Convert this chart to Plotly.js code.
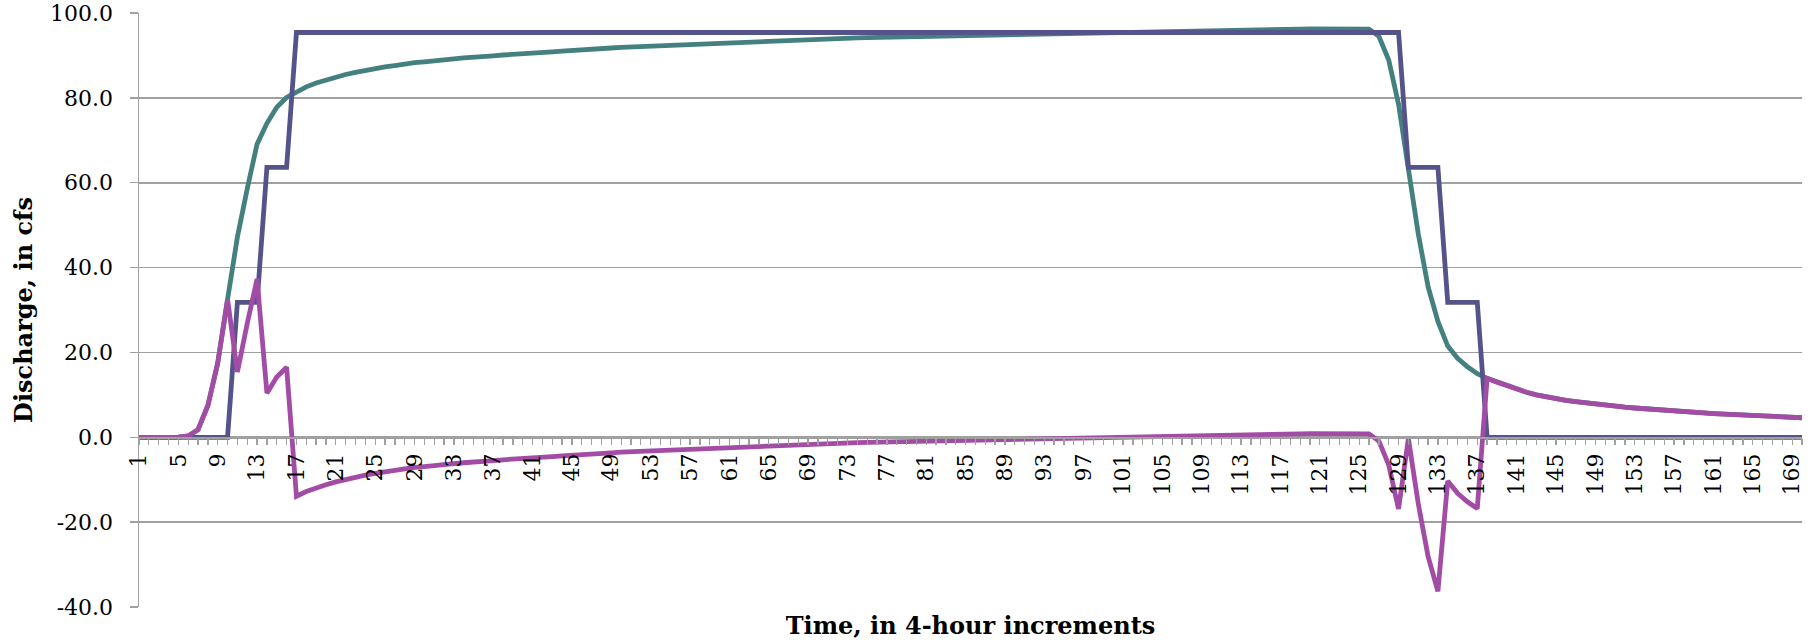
<!DOCTYPE html>
<html>
<head>
<meta charset="utf-8">
<script src="https://cdn.plot.ly/plotly-3.0.1.min.js"></script>
<style>html,body{margin:0;padding:0;background:#fff;}#chart{width:1816px;height:642px;}</style>
</head>
<body>
<div id="chart"></div>
<script>
// Time step (4-hour increments)
const categories = [
  1,2,3,4,5,6,7,8,9,10,11,12,13,14,15,16,17,18,19,20,
  21,22,23,24,25,26,27,28,29,30,31,32,33,34,35,36,37,38,39,40,
  41,42,43,44,45,46,47,48,49,50,51,52,53,54,55,56,57,58,59,60,
  61,62,63,64,65,66,67,68,69,70,71,72,73,74,75,76,77,78,79,80,
  81,82,83,84,85,86,87,88,89,90,91,92,93,94,95,96,97,98,99,100,
  101,102,103,104,105,106,107,108,109,110,111,112,113,114,115,116,117,118,119,120,
  121,122,123,124,125,126,127,128,129,130,131,132,133,134,135,136,137,138,139,140,
  141,142,143,144,145,146,147,148,149,150,151,152,153,154,155,156,157,158,159,160,
  161,162,163,164,165,166,167,168,169,170
];

// Dark blue stepped series
const stepSeries = [
  0,0,0,0,0,0,0,0,0,0,
  31.8,31.8,31.8,
  63.6,63.6,63.6,
  95.4,95.4,95.4,95.4,95.4,95.4,95.4,95.4,95.4,95.4,
  95.4,95.4,95.4,95.4,95.4,95.4,95.4,95.4,95.4,95.4,
  95.4,95.4,95.4,95.4,95.4,95.4,95.4,95.4,95.4,95.4,
  95.4,95.4,95.4,95.4,95.4,95.4,95.4,95.4,95.4,95.4,
  95.4,95.4,95.4,95.4,95.4,95.4,95.4,95.4,95.4,95.4,
  95.4,95.4,95.4,95.4,95.4,95.4,95.4,95.4,95.4,95.4,
  95.4,95.4,95.4,95.4,95.4,95.4,95.4,95.4,95.4,95.4,
  95.4,95.4,95.4,95.4,95.4,95.4,95.4,95.4,95.4,95.4,
  95.4,95.4,95.4,95.4,95.4,95.4,95.4,95.4,95.4,95.4,
  95.4,95.4,95.4,95.4,95.4,95.4,95.4,95.4,95.4,95.4,
  95.4,95.4,95.4,95.4,95.4,95.4,95.4,95.4,95.4,95.4,
  95.4,95.4,95.4,
  63.6,63.6,63.6,63.6,
  31.8,31.8,31.8,31.8,
  0,0,0,0,0,0,0,0,0,0,
  0,0,0,0,0,0,0,0,0,0,
  0,0,0,0,0,0,0,0,0,0,
  0,0,0
];

// Teal smooth series
const smoothSeries = [
  0,0,0,0,0.05,0.3,1.8,7.5,17.5,32.5,
  47.2,58.6,69.1,74.0,77.8,80.1,
  81.5,82.6,83.5,84.2,84.9,85.5,86.0,86.5,86.9,87.3,
  87.6,88.0,88.3,88.5,88.8,89.0,89.2,89.4,89.5,89.7,
  89.9,90.1,90.2,90.4,90.55,90.7,90.85,91.0,91.2,91.3,
  91.45,91.6,91.75,91.9,92.0,92.1,92.25,92.4,92.5,92.6,
  92.7,92.8,92.9,93.0,93.1,93.2,93.3,93.4,93.5,93.6,
  93.65,93.75,93.8,93.9,93.95,94.0,94.1,94.15,94.2,94.25,
  94.3,94.4,94.45,94.5,94.55,94.6,94.7,94.75,94.8,94.85,
  94.9,94.95,95.0,95.05,95.1,95.15,95.2,95.25,95.3,95.35,
  95.4,95.45,95.5,95.52,95.56,95.6,95.65,95.7,95.75,95.78,
  95.82,95.85,95.88,95.92,95.95,95.98,96.02,96.05,96.08,96.12,
  96.15,96.18,96.22,96.25,96.28,96.32,96.35,96.38,96.4,96.2,
  94.5,88.9,78.5,
  63.3,48.0,35.5,27.3,21.5,18.6,16.6,15.0,
  13.9,13.0,12.1,11.3,10.6,10.0,9.5,9.1,8.7,8.4,8.1,7.8,7.55,
  7.3,7.1,6.9,6.7,6.5,6.35,6.2,6.05,5.9,5.75,5.6,5.5,5.35,5.25,5.1,5.0,4.9,4.8,4.7,4.6
];

// Magenta difference series
const diffSeries = [
  0,0,0,0,0.05,0.3,1.8,7.5,17.5,32.5,
  15.4,26.8,37.3,10.4,14.2,16.5,
  -13.9,-12.8,-11.9,-11.2,-10.5,-9.9,-9.4,-8.9,-8.5,-8.1,
  -7.8,-7.4,-7.1,-6.9,-6.6,-6.4,-6.2,-6.0,-5.9,-5.7,
  -5.5,-5.3,-5.2,-5.0,-4.85,-4.7,-4.55,-4.4,-4.2,-4.1,
  -3.95,-3.8,-3.65,-3.5,-3.4,-3.3,-3.15,-3.0,-2.9,-2.8,
  -2.7,-2.6,-2.5,-2.4,-2.3,-2.2,-2.1,-2.0,-1.9,-1.8,
  -1.75,-1.65,-1.6,-1.5,-1.45,-1.4,-1.3,-1.25,-1.2,-1.15,
  -1.1,-1.0,-0.95,-0.9,-0.85,-0.8,-0.7,-0.65,-0.6,-0.55,
  -0.5,-0.45,-0.4,-0.35,-0.3,-0.25,-0.2,-0.15,-0.1,-0.05,
  0.0,0.05,0.1,0.12,0.16,0.2,0.25,0.3,0.35,0.38,
  0.42,0.45,0.48,0.52,0.55,0.58,0.62,0.65,0.68,0.72,
  0.75,0.78,0.82,0.85,0.88,0.92,0.95,0.98,1.0,0.8,
  -0.9,-6.5,-16.9,
  -0.3,-15.6,-28.1,-36.3,-10.3,-13.2,-15.2,-16.8,
  13.9,13.0,12.1,11.3,10.6,10.0,9.5,9.1,8.7,8.4,8.1,7.8,7.55,
  7.3,7.1,6.9,6.7,6.5,6.35,6.2,6.05,5.9,5.75,5.6,5.5,5.35,5.25,5.1,5.0,4.9,4.8,4.7,4.6
];

const xTickVals = [1,5,9,13,17,21,25,29,33,37,41,45,49,53,57,61,65,69,73,77,81,85,89,93,97,101,105,109,113,117,121,125,129,133,137,141,145,149,153,157,161,165,169];
const xTickText = ['1','5','9','13','17','21','25','29','33','37','41','45','49','53','57','61','65','69','73','77','81','85','89','93','97','101','105','109','113','117','121','125','129','133','137','141','145','149','153','157','161','165','169'];
const yTickVals = [-40,-20,0,20,40,60,80,100];
const yTickText = ['-40.0','-20.0','0.0','20.0','40.0','60.0','80.0','100.0'];

const FONT = 'DejaVu Serif, Liberation Serif, serif';
const GRID = '#a0a0a0';

const traces = [
  {x: categories, y: smoothSeries, type: 'scatter', mode: 'lines', name: 'Smooth',
   line: {color: '#43807f', width: 4.8}, hoverinfo: 'skip'},
  {x: categories, y: stepSeries, type: 'scatter', mode: 'lines', name: 'Step',
   line: {color: '#54548b', width: 4.8}, hoverinfo: 'skip'},
  {x: categories, y: diffSeries, type: 'scatter', mode: 'lines', name: 'Difference',
   line: {color: '#a34ca6', width: 4.8}, hoverinfo: 'skip'}
];

const layout = {
  width: 1816, height: 642,
  margin: {l: 139, r: 14, t: 13, b: 35},
  paper_bgcolor: '#ffffff', plot_bgcolor: '#ffffff',
  showlegend: false,
  font: {family: FONT, color: '#000', size: 20},
  xaxis: {
    range: [1, 170],
    anchor: 'free', position: 40/140,
    showgrid: false, zeroline: false,
    showline: true, linecolor: GRID, linewidth: 1.5,
    tickmode: 'array', tickvals: xTickVals, ticktext: xTickText,
    ticks: 'outside', ticklen: 6, tickcolor: GRID, tickwidth: 1.3,
    tickangle: -90,
    tickfont: {family: FONT, size: 22, color: '#000'},
    minor: {tickmode: 'array', tickvals: categories, ticks: 'outside', ticklen: 6, tickcolor: GRID, tickwidth: 1.3, showgrid: false},
    title: {text: 'Time, in 4-hour increments', standoff: 122,
            font: {family: FONT, size: 24, color: '#000', weight: 'bold'}},
    fixedrange: true
  },
  yaxis: {
    range: [-40, 100],
    tickmode: 'array', tickvals: yTickVals, ticktext: yTickText,
    showgrid: true, gridcolor: GRID, gridwidth: 1.6,
    zeroline: false,
    showline: true, linecolor: GRID, linewidth: 1.5,
    ticks: 'outside', ticklen: 8, tickcolor: GRID, tickwidth: 1.5,
    ticklabelstandoff: 12,
    tickfont: {family: FONT, size: 22, color: '#000'},
    title: {text: 'Discharge, in cfs', standoff: 10,
            font: {family: FONT, size: 24, color: '#000', weight: 'bold'}},
    fixedrange: true
  }
};

Plotly.newPlot('chart', traces, layout, {displayModeBar: false, staticPlot: true});
</script>
</body>
</html>
